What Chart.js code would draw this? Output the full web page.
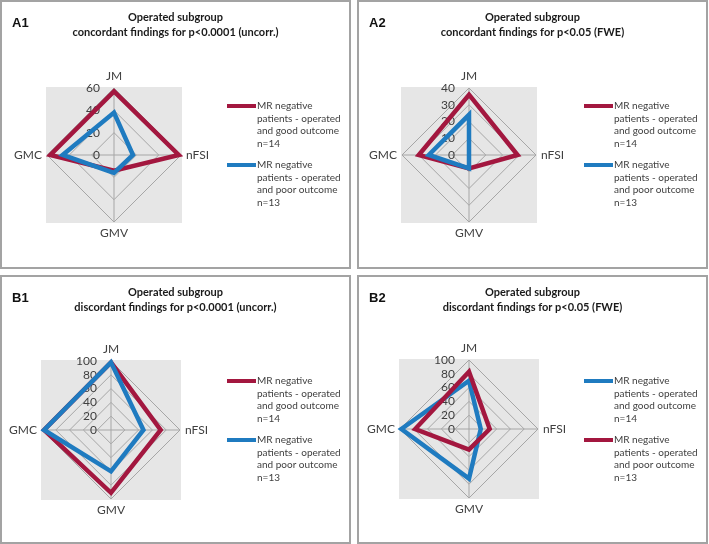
<!DOCTYPE html>
<html>
<head>
<meta charset="utf-8">
<title>Operated subgroup radar charts</title>
<script src="https://cdn.jsdelivr.net/npm/chart.js@4.4.1/dist/chart.umd.min.js"></script>
<style>
  body { margin: 0; background: #fff; width: 709px; height: 544px; position: relative; overflow: hidden; }
  .panel { position: absolute; width: 351px; height: 269px; box-sizing: border-box; border: 2px solid #a3a3a3; }
  .panel canvas { position: absolute; left: -2px; top: -2px; }
</style>
</head>
<body>
<div class="panel" style="left:0;top:0"><canvas id="chartA1" width="351" height="269"></canvas></div>
<div class="panel" style="left:357px;top:0"><canvas id="chartA2" width="351" height="269"></canvas></div>
<div class="panel" style="left:0;top:275px"><canvas id="chartB1" width="351" height="269"></canvas></div>
<div class="panel" style="left:357px;top:275px"><canvas id="chartB2" width="351" height="269"></canvas></div>

<script>
// axes, clockwise from the top
const axisLabels = ['JM', 'nFSI', 'GMV', 'GMC'];

const titleTop = 'Operated subgroup';
const subtitles = [
    'concordant findings for p<0.0001 (uncorr.)',
    'concordant findings for p<0.05 (FWE)',
    'discordant findings for p<0.0001 (uncorr.)',
    'discordant findings for p<0.05 (FWE)'
];
const panelTags = ['A1', 'A2', 'B1', 'B2'];

const goodLabel = ['MR negative', 'patients - operated', 'and good outcome', 'n=14'];
const poorLabel = ['MR negative', 'patients - operated', 'and poor outcome', 'n=13'];

// values in axis order: JM, nFSI, GMV, GMC
const goodA1 = [57, 58, 14, 57];
const poorA1 = [38, 17, 16, 46];
const goodA2 = [36, 29, 8, 30];
const poorA2 = [24, 0, 8, 24];
const goodB1 = [98, 72, 91, 97];
const poorB1 = [98, 47, 60, 97];
const goodB2 = [70, 17, 72, 98];
const poorB2 = [83, 30, 30, 78];

// tick labels of each radial axis
const ticksA1 = [0, 20, 40, 60];
const ticksA2 = [0, 10, 20, 30, 40];
const ticksB = [0, 20, 40, 60, 80, 100];

const RED = '#a3173f';
const BLUE = '#1f7bc0';
const FONT = 'Lato, "Open Sans", sans-serif';

// Excel-style extras: gray plot square, tick labels left of the JM axis,
// axis names, panel tag and a wrapped legend on the right
const radarDecor = {
    id: 'radarDecor',
    beforeDraw(chart) {
        const s = chart.scales.r;
        const ctx = chart.ctx;
        const h = s.drawingArea + 1;
        ctx.save();
        ctx.fillStyle = '#e6e6e6';
        ctx.fillRect(s.xCenter - h, s.yCenter - h, 2 * h, 2 * h);
        ctx.restore();
    },
    beforeDatasetsDraw(chart) {
        const s = chart.scales.r;
        const ctx = chart.ctx;
        ctx.save();
        ctx.fillStyle = '#404040';
        ctx.font = '12px ' + FONT;
        ctx.textAlign = 'right';
        ctx.textBaseline = 'middle';
        s.ticks.forEach(t => {
            ctx.fillText(t.label, s.xCenter - 14, s.yCenter - s.getDistanceFromCenterForValue(t.value));
        });

        ctx.font = '12px ' + FONT;
        chart.data.labels.forEach((label, i) => {
            const a = s.getIndexAngle(i);
            const sx = Math.sin(a);
            let off = 5;
            if (Math.abs(sx) < 0.1) {
                ctx.textAlign = 'center';
                off = 11.5;
            } else {
                ctx.textAlign = sx > 0 ? 'left' : 'right';
            }
            const p = s.getPointPosition(i, s.drawingArea + off);
            ctx.fillText(label, p.x, p.y);
        });
        ctx.restore();
    },
    afterDraw(chart, args, opts) {
        const ctx = chart.ctx;
        ctx.save();
        ctx.fillStyle = '#111';
        ctx.font = 'bold 13px "Liberation Sans", Arial, sans-serif';
        ctx.textBaseline = 'middle';
        ctx.fillText(opts.tag, 12, 23);

        // legend
        chart.data.datasets.forEach((ds, k) => {
            const y0 = 106 + k * 59;
            ctx.strokeStyle = ds.borderColor;
            ctx.lineWidth = 4;
            ctx.beginPath();
            ctx.moveTo(227, y0);
            ctx.lineTo(256, y0);
            ctx.stroke();
            ctx.fillStyle = '#404040';
            ctx.font = '10px ' + FONT;
            ctx.textAlign = 'left';
            ds.legendLines.forEach((line, j) => ctx.fillText(line, 257, y0 + j * 12.5));
        });
        ctx.restore();
    }
};

function makeRadar(canvasId, idx, good, poor, tickLabels, goodColor, poorColor, cx, cy, radius) {
    new Chart(document.getElementById(canvasId), {
        type: 'radar',
        data: {
            labels: axisLabels,
            datasets: [
                { label: goodLabel.join(' '), legendLines: goodLabel, data: good, borderColor: goodColor, order: 1 },
                { label: poorLabel.join(' '), legendLines: poorLabel, data: poor, borderColor: poorColor, order: 0 }
            ]
        },
        options: {
            responsive: false,
            animation: false,
            events: [],
            elements: {
                line: { borderWidth: 4.5, fill: false, tension: 0, borderJoinStyle: 'miter' },
                point: { radius: 0 }
            },
            scales: {
                r: {
                    min: tickLabels[0],
                    max: tickLabels[tickLabels.length - 1],
                    ticks: { stepSize: tickLabels[1] - tickLabels[0], display: false },
                    grid: { color: '#a6a6a6', lineWidth: 1 },
                    angleLines: { color: '#a6a6a6', lineWidth: 1 },
                    pointLabels: { display: false },
                    afterFit(scale) {
                        scale.xCenter = cx;
                        scale.yCenter = cy;
                        scale.drawingArea = radius;
                    }
                }
            },
            plugins: {
                legend: { display: false },
                tooltip: { enabled: false },
                title: {
                    display: true,
                    text: [titleTop, subtitles[idx]],
                    color: '#1a1a1a',
                    font: { family: FONT, size: 11, weight: 'bold', lineHeight: 1.45 },
                    padding: { top: 9, bottom: 0 }
                },
                radarDecor: { tag: panelTags[idx] }
            }
        },
        plugins: [radarDecor]
    });
}

makeRadar('chartA1', 0, goodA1, poorA1, ticksA1, RED, BLUE, 114, 155, 67);
makeRadar('chartA2', 1, goodA2, poorA2, ticksA2, RED, BLUE, 112, 155, 67);
makeRadar('chartB1', 2, goodB1, poorB1, ticksB, RED, BLUE, 111, 155, 69);
makeRadar('chartB2', 3, goodB2, poorB2, ticksB, BLUE, RED, 112, 154, 69);
</script>
</body>
</html>
